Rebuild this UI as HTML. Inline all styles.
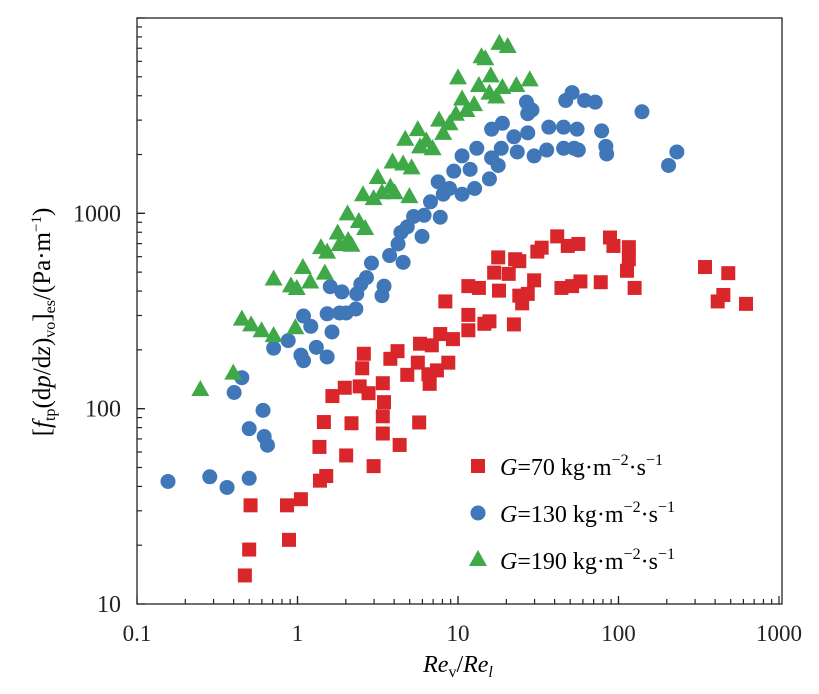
<!DOCTYPE html>
<html><head><meta charset="utf-8"><style>
body{margin:0;background:#fff;}
svg{display:block;font-family:"Liberation Serif",serif;}
</style></head><body>
<svg id="chart" width="819" height="694" viewBox="0 0 819 694">
<rect x="0" y="0" width="819" height="694" fill="#fff"/>
<g id="marks"></g>
<rect x="137" y="18" width="645" height="586" fill="none" stroke="#222" stroke-width="1.3"/>
<g id="ticks"></g>
<text x="458" y="672" font-size="24" text-anchor="middle"><tspan font-style="italic">Re</tspan><tspan font-size="16" dy="5">v</tspan><tspan dy="-5">/</tspan><tspan font-style="italic">Re</tspan><tspan font-size="16" dy="5" font-style="italic">l</tspan></text>
<text transform="translate(50,322) rotate(-90)" font-size="25" text-anchor="middle">[<tspan font-style="italic">f</tspan><tspan font-size="16" dy="5">tp</tspan><tspan dy="-5">(d</tspan><tspan font-style="italic">p</tspan>/d<tspan font-style="italic">z</tspan>)<tspan font-size="16" dy="5">vo</tspan><tspan dy="-5">]</tspan><tspan font-size="16" dy="5">es</tspan><tspan dy="-5">/(Pa·m</tspan><tspan font-size="15" dy="-9">−1</tspan><tspan dy="9">)</tspan></text>
<g font-size="24">
<rect x="471" y="459" width="14" height="14" fill="#d9262b"/>
<text x="500" y="475"><tspan font-style="italic">G</tspan>=70 kg·m<tspan font-size="16" dy="-10">−2</tspan><tspan dy="10">·s</tspan><tspan font-size="16" dy="-10">−1</tspan></text>
<circle cx="478" cy="513" r="7.5" fill="#3f77b8"/>
<text x="500" y="522"><tspan font-style="italic">G</tspan>=130 kg·m<tspan font-size="16" dy="-10">−2</tspan><tspan dy="10">·s</tspan><tspan font-size="16" dy="-10">−1</tspan></text>
<polygon points="478,550 487,566 469,566" fill="#3fa847"/>
<text x="500" y="569"><tspan font-style="italic">G</tspan>=190 kg·m<tspan font-size="16" dy="-10">−2</tspan><tspan dy="10">·s</tspan><tspan font-size="16" dy="-10">−1</tspan></text>
</g>
</svg>
<script>
const xTicks=[0.1,1,10,100,1000];
const xTickLabels=["0.1","1","10","100","1000"];
const yTicks=[10,100,1000];
const yTickLabels=["10","100","1000"];
const g70X=[0.47,0.50,0.51,0.885,0.86,1.05,1.38,1.51,1.37,1.46,2.01,2.17,2.98,4.33,3.40,3.40,3.46,3.40,2.77,2.44,1.97,1.65,2.53,2.59,3.79,4.20,4.83,5.62,5.80,5.73,6.54,6.66,7.39,8.70,6.87,7.75,9.30,8.34,11.6,11.6,14.6,15.7,11.6,13.5,17.8,16.8,18.0,20.7,22.3,22.7,24.1,24.1,25.1,27.2,29.8,31.2,33.2,41.5,44.1,48.3,51.4,56.2,57.9,77.5,88.5,93,116,116,113,126,346,483,415,450,623];
const g70Y=[14.0,19.0,32,21.3,32,34.4,42.8,45.2,63.7,85.4,57.6,84.2,50.8,65.2,74.6,91.4,108,135,120,130,128,116,161,191,180,197,149,172,215,85,150,134,157,172,211,241,227,354,252,302,272,280,424,415,595,497,402,490,270,582,569,379,346,387,454,637,667,762,415,681,424,697,448,444,752,681,671,582,508,415,531,494,354,382,344];
const g130X=[0.156,0.284,0.364,0.50,0.403,0.45,0.50,0.61,0.62,0.65,0.71,0.875,1.05,1.09,1.09,1.21,1.31,1.53,1.53,1.64,1.60,1.89,1.83,2.01,2.31,2.34,2.48,2.69,2.89,3.36,3.46,3.75,4.23,4.55,4.41,4.83,5.29,5.97,6.15,6.74,7.75,8.09,8.86,10.6,7.52,9.41,10.6,11.9,12.7,13.1,15.7,16.2,17.8,18.6,16.2,18.9,22.3,23.4,27.2,29.8,27.2,28.9,26.7,35.7,36.8,45.5,45.5,52.9,55.2,56.2,46.9,51.4,61.5,71.6,78.5,83.4,84.4,140,205,231];
const g130Y=[42.4,44.8,39.5,44.0,121,144,79,98,72,65,204,223,188,176,298,264,206,184,306,247,421,396,309,309,324,387,434,469,556,379,424,608,697,561,798,853,964,762,977,1146,955,1253,1340,1253,1449,1644,1968,1680,1340,2153,1500,1923,1758,2153,2698,2890,2466,2061,2582,1968,3236,3381,3707,2109,2761,2153,2761,2153,2698,2109,3784,4150,3784,3707,2642,2203,2014,3311,1758,2061];
const g190X=[0.248,0.398,0.45,0.514,0.597,0.71,0.97,0.71,0.91,0.99,1.08,1.20,1.48,1.40,1.53,1.78,1.83,2.07,2.17,2.05,2.41,2.64,2.56,2.98,3.16,3.36,3.79,4.03,3.91,4.55,4.98,5.14,4.69,5.62,5.80,6.35,6.95,7.62,8.09,8.86,9.70,10.0,10.6,11.3,12.6,13.5,14.0,14.8,16.0,17.3,15.7,18.9,23.1,28.0,18.1,20.4];
const g190Y=[126,153,289,270,252,238,261,464,428,415,531,448,497,671,637,798,697,729,690,1000,914,841,1253,1197,1535,1282,1371,1282,1841,1799,1225,1718,2410,2698,2203,2360,2153,3020,2582,2890,3236,4966,3873,3381,3622,4539,6368,6223,5082,3963,4150,4436,4539,4853,7464,7194];

const NS="http://www.w3.org/2000/svg";
const L=137,R=779,B=604,T=18;
function sx(v){return L+(Math.log10(v)+1)/4*(R-L);}
function sy(v){return B-(Math.log10(v)-1)/3*(B-T);}
function el(tag,attrs,parent){const e=document.createElementNS(NS,tag);for(const k in attrs)e.setAttribute(k,attrs[k]);parent.appendChild(e);return e;}
const marks=document.getElementById('marks');
const ticks=document.getElementById('ticks');
for(let i=0;i<g70X.length;i++){
  const e=el('rect',{x:sx(g70X[i])-7,y:sy(g70Y[i])-7,width:14,height:14,fill:'#d9262b'},marks);
  
  
}
for(let i=0;i<g130X.length;i++){
  const e=el('circle',{cx:sx(g130X[i]),cy:sy(g130Y[i]),r:7.5,fill:'#3f77b8'},marks);
  
  
}
for(let i=0;i<g190X.length;i++){
  const x=sx(g190X[i]),y=sy(g190Y[i]);
  const e=el('polygon',{points:`${x},${y-9} ${x+9},${y+7} ${x-9},${y+7}`,fill:'#3fa847'},marks);
  
  
}
for(let d=0;d<4;d++){for(let m=1;m<=10;m++){
  const v=xTicks[d]*m;const x=sx(v);const len=(m===1||m===10)?8:5;
  const t=el('line',{x1:x,x2:x,y1:B,y2:B-len,stroke:'#222','stroke-width':1.2},ticks);
  
  
}}
for(let d=0;d<3;d++){for(let m=1;m<=10;m++){
  const v=yTicks[d]*m;const y=sy(v);const len=(m===1||m===10)?8:5;
  const t=el('line',{x1:L,x2:L+len,y1:y,y2:y,stroke:'#222','stroke-width':1.2},ticks);
  
  
}}
for(let i=0;i<xTicks.length;i++){
  const t=el('text',{x:sx(xTicks[i]),y:641,'font-size':23,'text-anchor':'middle',fill:'#222'},ticks);
  t.textContent=xTickLabels[i];
  
  
}
for(let i=0;i<yTicks.length;i++){
  const t=el('text',{x:121,y:sy(yTicks[i])+8,'font-size':24,'text-anchor':'end',fill:'#222'},ticks);
  t.textContent=yTickLabels[i];
  
  
}
</script>
</body></html>
